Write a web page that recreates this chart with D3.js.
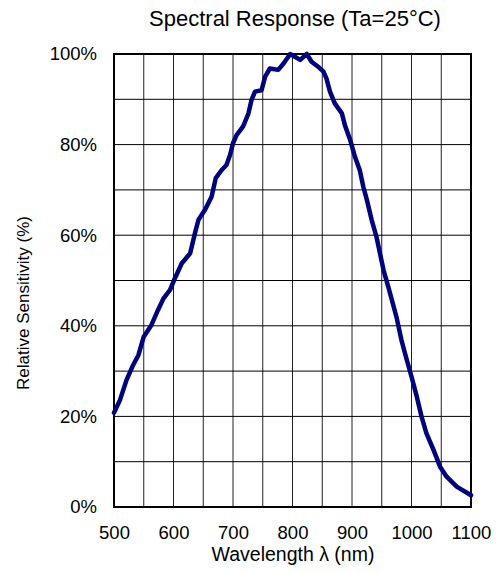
<!DOCTYPE html>
<html>
<head>
<meta charset="utf-8">
<script src="https://cdn.jsdelivr.net/npm/d3@7"></script>
<style>
  html, body { margin: 0; padding: 0; background: #fff; }
  svg { display: block; }
  text { font-family: Arial, "Liberation Sans", sans-serif; fill: #000; }
</style>
</head>
<body>
<svg id="chart" width="496" height="573"></svg>
<script>
// Spectral response curve: wavelength (nm) and relative sensitivity (%)
const wavelength = [500, 510, 521, 532, 541, 550, 563, 574, 583, 594, 601, 614, 628, 636, 642, 653, 664, 671, 681, 689, 695, 700, 706, 717, 726, 731, 737, 748, 754, 762, 776, 785, 796, 804, 813, 824, 832, 843, 852, 857, 863, 871, 883, 888, 897, 905, 913, 919, 925, 933, 941, 947, 953, 961, 967, 975, 983, 992, 1000, 1009, 1017, 1025, 1037, 1048, 1059, 1076, 1100];
const sensitivity = [20.8, 23.6, 28, 31.3, 33.5, 37.6, 40.2, 43.5, 46, 47.9, 50.1, 53.8, 56, 60.4, 63.4, 65.6, 68.5, 72.6, 74.4, 75.5, 77.7, 80.3, 82.1, 84, 86.9, 89.8, 91.7, 92, 95, 96.8, 96.5, 97.9, 100, 99.4, 98.7, 100, 98.3, 97.2, 96.1, 94.6, 91.7, 89.1, 86.9, 84.3, 81, 77.3, 74.4, 70.7, 67.8, 63.4, 59.7, 56, 52.3, 48.6, 45.7, 41.8, 36.9, 32.5, 28.8, 24.3, 19.9, 16.3, 12.6, 8.9, 6.7, 4.5, 2.6];

const xTicks = [500, 600, 700, 800, 900, 1000, 1100];
const xGrid = d3.range(500, 1101, 50);
const yTicks = [0, 20, 40, 60, 80, 100];
const yGrid = d3.range(0, 101, 10);

const titleText = "Spectral Response (Ta=25\u00B0C)";
const xLabel = "Wavelength \u03BB (nm)";
const yLabel = "Relative Sensitivity (%)";

const svg = d3.select("#chart");
const plot = { left: 114, right: 471, top: 54, bottom: 507 };

const x = d3.scaleLinear().domain([500, 1100]).range([plot.left, plot.right]);
const y = d3.scaleLinear().domain([0, 100]).range([plot.bottom, plot.top]);

// grid
svg.append("g")
  .selectAll("line")
  .data(xGrid)
  .join("line")
  .attr("x1", d => x(d)).attr("x2", d => x(d))
  .attr("y1", plot.top).attr("y2", plot.bottom)
  .attr("stroke", "#222").attr("stroke-width", 1);

svg.append("g")
  .selectAll("line")
  .data(yGrid)
  .join("line")
  .attr("x1", plot.left).attr("x2", plot.right)
  .attr("y1", d => y(d)).attr("y2", d => y(d))
  .attr("stroke", "#000").attr("stroke-width", 1);

// frame
svg.append("rect")
  .attr("x", plot.left).attr("y", plot.top)
  .attr("width", plot.right - plot.left).attr("height", plot.bottom - plot.top)
  .attr("fill", "none").attr("stroke", "#000").attr("stroke-width", 2);

// axes (labels only)
const xAxis = d3.axisBottom(x).tickValues(xTicks).tickSize(0).tickPadding(19).tickFormat(d3.format("d"));
const gx = svg.append("g").attr("transform", `translate(0,${plot.bottom})`).call(xAxis);
gx.select(".domain").remove();
gx.selectAll("text").style("font-size", "18.5px").attr("font-family", null);

const yAxis = d3.axisLeft(y).tickValues(yTicks).tickSize(0).tickPadding(17).tickFormat(d => d + "%");
const gy = svg.append("g").attr("transform", `translate(${plot.left},0)`).call(yAxis);
gy.select(".domain").remove();
gy.selectAll("text").style("font-size", "18.5px").attr("font-family", null);

// curve
const pts = wavelength.map((w, i) => [w, sensitivity[i]]);
svg.append("path")
  .datum(pts)
  .attr("fill", "none")
  .attr("stroke", "#000080")
  .attr("stroke-width", 4.5)
  .attr("stroke-linejoin", "round")
  .attr("stroke-linecap", "round")
  .attr("d", d3.line().x(d => x(d[0])).y(d => y(d[1])));

// titles
svg.append("text")
  .attr("x", 295).attr("y", 26)
  .attr("text-anchor", "middle")
  .style("font-size", "22px")
  .text(titleText);

svg.append("text")
  .attr("x", 293).attr("y", 561)
  .attr("text-anchor", "middle")
  .style("font-size", "19.5px")
  .text(xLabel);

svg.append("text")
  .attr("transform", "translate(29,303) rotate(-90)")
  .attr("text-anchor", "middle")
  .style("font-size", "17px")
  .text(yLabel);
</script>
</body>
</html>
